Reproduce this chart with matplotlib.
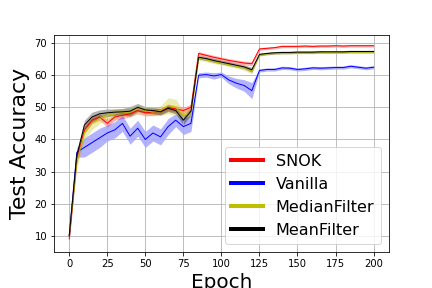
import numpy as np
import matplotlib
matplotlib.use('Agg')
import matplotlib.pyplot as plt

# epochs at which test accuracy was recorded
epochs = list(range(0, 201, 5))

snok = [9, 34, 43, 46, 47, 45, 47, 47.5, 48, 49, 48.3, 48.5, 48.8, 50, 49.5, 49, 50,
        66.8, 66.2, 65.6, 65.1, 64.6, 64.2, 63.8, 63.6,
        68.2, 68.4, 68.6, 69, 69, 69, 69.1, 69, 69.1, 69.1, 69.2, 69.1, 69.2, 69.2, 69.2, 69.2]
snok_std = [1, 1.5, 1.2, 1, 1, 1.2, 1, 1, 1, 1, 1, 1, 1, 1, 1, 1, 1,
            0.6, 0.6, 0.6, 0.6, 0.6, 0.6, 0.6, 0.6,
            0.4, 0.4, 0.4, 0.4, 0.4, 0.4, 0.4, 0.4, 0.4, 0.4, 0.4, 0.4, 0.4, 0.4, 0.4, 0.4]

vanilla = [10, 36, 37.5, 39, 40.5, 42, 43, 45, 41, 43.5, 40, 42, 40.8, 44, 46, 44, 45,
           60, 60.2, 59.8, 60.2, 58.5, 57.5, 56.8, 55.2,
           61.5, 61.8, 61.8, 62.3, 62.2, 61.8, 62, 62.3, 62.2, 62.3, 62.4, 62.4, 62.8, 62.5, 62.2, 62.5]
vanilla_std = [1, 1.5, 3, 3, 3, 2.5, 2.5, 2.5, 2.5, 2.5, 2.5, 2.5, 2.5, 2.5, 2, 2.5, 2.5,
               0.8, 0.8, 1, 0.8, 1.2, 1.5, 1.8, 2.5,
               0.5, 0.5, 0.5, 0.5, 0.5, 0.5, 0.5, 0.5, 0.5, 0.5, 0.5, 0.5, 0.5, 0.5, 0.5, 0.5]

median = [10, 33, 42, 45, 46.5, 47.5, 48, 48.5, 48.5, 49.5, 49, 48.5, 49, 50.5, 50, 47.5, 48.5,
          65.3, 64.8, 64.2, 63.8, 63.3, 62.8, 62.3, 61.3,
          66.3, 66.7, 66.9, 67, 67, 67.1, 67.1, 67.1, 67.2, 67.1, 67.2, 67.2, 67.2, 67.2, 67.2, 67.2]
median_std = [1, 2, 2, 2, 1.5, 1.5, 1.5, 1.2, 1.2, 1.2, 1.2, 1.2, 1.5, 2.5, 2.5, 1.5, 1.5,
              0.6, 0.6, 0.6, 0.6, 0.6, 0.6, 0.8, 0.8,
              0.4, 0.4, 0.4, 0.4, 0.4, 0.4, 0.4, 0.4, 0.4, 0.4, 0.4, 0.4, 0.4, 0.4, 0.4, 0.4]

mean = [10, 35, 44.5, 47, 48, 48.3, 48.5, 48.6, 48.8, 50, 49.2, 49, 48.6, 49.7, 49, 46, 48.8,
        65.6, 65.2, 64.6, 64.1, 63.6, 63.1, 62.6, 61.7,
        66.5, 66.8, 67, 67.1, 67.1, 67.2, 67.2, 67.2, 67.3, 67.3, 67.3, 67.3, 67.4, 67.4, 67.4, 67.4]
mean_std = [1, 1.5, 1.5, 1.5, 1.2, 1.2, 1, 1, 1.5, 1.2, 1, 1, 1, 1, 1, 1.5, 1,
            0.6, 0.6, 0.6, 0.6, 0.6, 0.6, 0.6, 0.8,
            0.4, 0.4, 0.4, 0.4, 0.4, 0.4, 0.4, 0.4, 0.4, 0.4, 0.4, 0.4, 0.4, 0.4, 0.4, 0.4]

series = [('SNOK', snok, snok_std, 'r'),
          ('Vanilla', vanilla, vanilla_std, 'b'),
          ('MedianFilter', median, median_std, 'y'),
          ('MeanFilter', mean, mean_std, 'k')]

fig = plt.figure(figsize=(6, 4), dpi=72)
ax = fig.add_subplot(111)
fig.subplots_adjust(left=0.125, right=0.9, bottom=0.125, top=0.88)

for name, vals, std, c in series:
    vals = np.array(vals)
    std = np.array(std)
    ax.plot(epochs, vals, c=c, lw=1, label=name)
    ax.fill_between(epochs, vals - std, vals + std, color=c, alpha=0.3, lw=0)

ax.grid(True)
ax.set_xlabel('Epoch', fontsize=20)
ax.set_ylabel('Test Accuracy', fontsize=22)
leg = ax.legend(loc='lower right', fontsize=16)
for line in leg.get_lines():
    line.set_linewidth(4)

plt.savefig('out.png', dpi=72)
